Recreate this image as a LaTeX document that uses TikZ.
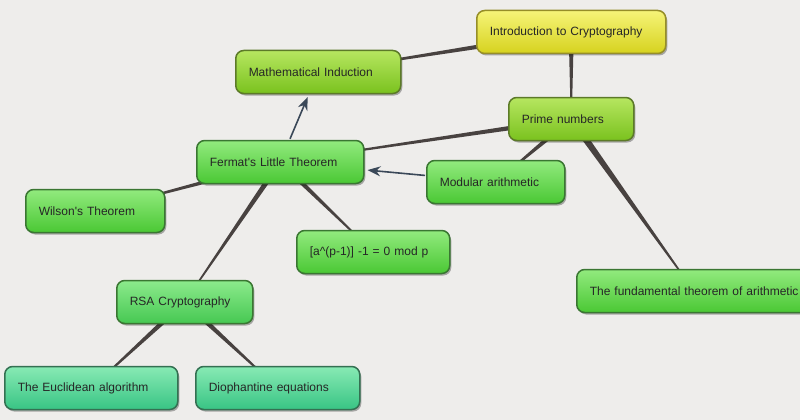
\documentclass[tikz,border=0pt]{standalone}
\usepackage{fontspec}
\setmainfont{Liberation Sans}
\usepackage{xcolor}
\definecolor{canvas}{RGB}{238, 237, 235}
\definecolor{linkc}{RGB}{72, 66, 64}
\definecolor{arrowc}{RGB}{58, 72, 88}
\definecolor{yellowtop}{RGB}{246, 244, 120}
\definecolor{yellowbot}{RGB}{214, 210, 30}
\definecolor{yellowrim}{RGB}{150, 142, 40}
\definecolor{limetop}{RGB}{182, 230, 96}
\definecolor{limebot}{RGB}{122, 194, 30}
\definecolor{limerim}{RGB}{92, 122, 40}
\definecolor{greentop}{RGB}{146, 234, 126}
\definecolor{greenbot}{RGB}{74, 200, 52}
\definecolor{greenrim}{RGB}{58, 118, 50}
\definecolor{emeraldtop}{RGB}{140, 234, 140}
\definecolor{emeraldbot}{RGB}{70, 200, 82}
\definecolor{minttop}{RGB}{136, 234, 180}
\definecolor{mintbot}{RGB}{56, 196, 132}
\definecolor{mintrim}{RGB}{52, 112, 82}
\usepackage{tikz}
\usetikzlibrary{shapes,arrows.meta,positioning,calc,shadows,backgrounds}

\newcommand{\taperlink}[3]{\fill[color=linkc] ($(#2)!#1!90:(#3)$) -- ($(#2)!#1!-90:(#3)$) -- ($(#3)!0.5pt!90:(#2)$) -- ($(#3)!0.5pt!-90:(#2)$) -- cycle;}

\begin{document}
\begin{tikzpicture}[
  x=1pt, y=-1pt,
  box/.style={rounded corners=8pt, line width=1.5pt, text width=#1, align=left, inner xsep=13pt, minimum height=43pt, anchor=west, font=\fontsize{12}{14}\selectfont, text=black!85, drop shadow={shadow xshift=1.5pt, shadow yshift=-2pt, opacity=0.3, fill=black}},
  yel/.style={top color=yellowtop, bottom color=yellowbot, draw=yellowrim},
  lime/.style={top color=limetop, bottom color=limebot, draw=limerim},
  grn/.style={top color=greentop, bottom color=greenbot, draw=greenrim},
  emer/.style={top color=emeraldtop, bottom color=emeraldbot, draw=greenrim},
  mint/.style={top color=minttop, bottom color=mintbot, draw=mintrim},
  arr/.style={-{Stealth[length=13pt, width=10pt]}, line width=1.6pt, draw=arrowc, shorten >=3pt, shorten <=1pt}
]
\useasboundingbox (0,0) rectangle (800,420);
\clip (0,0) rectangle (800,420);

\node[box=163pt, yel] (intro) at (476,32) {Introduction to Cryptography};
\node[box=139pt, lime] (indu) at (235,72) {Mathematical Induction};
\node[box=99pt, lime] (prime) at (508,119) {Prime numbers};
\node[box=141pt, grn] (ferm) at (196,162) {Fermat\textquotesingle s Little Theorem};
\node[box=112pt, grn] (modar) at (426,182) {Modular arithmetic};
\node[box=113pt, grn] (wil) at (25,211) {Wilson\textquotesingle s Theorem};
\node[box=127pt, grn] (amod) at (296,252) {[a\^{}(p-1)] -1 = 0 mod p};
\node[box=220pt, grn] (fund) at (576,291) {The fundamental theorem of arithmetic};
\node[box=110pt, emer] (rsa) at (116,302) {RSA Cryptography};
\node[box=147pt, mint] (eucl) at (4,388) {The Euclidean algorithm};
\node[box=138pt, mint] (dioph) at (195,388) {Diophantine equations};
\coordinate (fundin) at ($(fund.west)+(118pt,0)$);

\begin{scope}[on background layer]
\fill[canvas] (0,0) rectangle (800,420);
\taperlink{3pt}{intro}{indu}
\taperlink{2.6pt}{intro}{prime}
\taperlink{2.6pt}{prime}{ferm}
\taperlink{2.8pt}{prime}{modar}
\taperlink{3.6pt}{prime}{fundin}
\taperlink{2.6pt}{ferm}{wil}
\taperlink{2.6pt}{ferm}{amod}
\taperlink{2.8pt}{ferm}{rsa}
\taperlink{2.8pt}{rsa}{eucl}
\taperlink{2.8pt}{rsa}{dioph}
\end{scope}

\draw[arr] (ferm) -- (indu);
\draw[arr] (modar) -- (ferm);
\end{tikzpicture}
\end{document}
